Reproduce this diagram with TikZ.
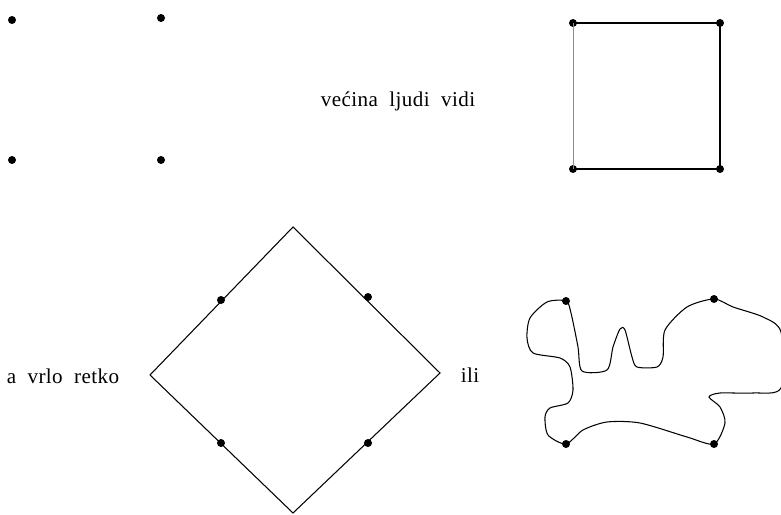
\documentclass[tikz,border=0pt]{standalone}
\usepackage{fontspec}
\setmainfont[WordSpace=2.0,LetterSpace=2]{Liberation Serif}
\begin{document}
\begin{tikzpicture}[x=0.03cm,y=-0.03cm,
  pt/.style={circle,fill=black,inner sep=0pt,minimum size=8*0.03cm},
  edge/.style={line width=0.9pt},
  bold/.style={line width=1.5pt},
  lbl/.style={font=\fontsize{18}{18}\selectfont,inner sep=0pt}]
\useasboundingbox (0,0) rectangle (781,515);

% four loose points
\node[pt] (p1) at (12,20) {};
\node[pt] (p2) at (161,18) {};
\node[pt] (p3) at (12,160) {};
\node[pt] (p4) at (161,160) {};

\node[lbl] (t1) at (398,101) {većina ljudi vidi};

% the square
\node[pt] (s1) at (573,23) {};
\node[pt] (s2) at (720,23) {};
\node[pt] (s3) at (720,169) {};
\node[pt] (s4) at (573,169) {};
\draw[bold] (s4.center) -- (s3.center) -- (s2.center) -- (s1.center);
\draw[line width=0.6pt,black!45] (s1.center) -- (s4.center);

% the diamond
\coordinate (dt) at (293,227);
\coordinate (dr) at (440,373);
\coordinate (db) at (293,513);
\coordinate (dl) at (150,375);
\draw[edge] (dt) -- (dr) -- (db) -- (dl) -- cycle;
\node[pt] (d1) at (221,300) {};
\node[pt] (d2) at (368,297) {};
\node[pt] (d3) at (368,443) {};
\node[pt] (d4) at (221,443) {};

\node[lbl] (t2) at (63,376) {a vrlo retko};
\node[lbl] (t3) at (470,375) {ili};

% the irregular loop
\node[pt] (w1) at (566,301) {};
\node[pt] (w2) at (714,299) {};
\node[pt] (w3) at (714,444) {};
\node[pt] (w4) at (566,444) {};
\draw[edge] plot[smooth cycle,tension=0.45] coordinates {
  (566,301) (571,313) (578,347) (582,371) (607,370) (613,347) (620,329)
  (625,330) (632,357) (637,367) (657,367) (663,357) (665,330) (687,307)
  (714,299) (733,307) (763,317) (781,332) (781,388) (753,393) (720,393)
  (709,397) (720,407) (725,423) (714,444) (687,437) (640,423) (607,422)
  (583,430) (566,444) (548,435) (545,417) (550,408) (568,403) (573,390)
  (570,367) (560,358) (533,353) (527,338) (530,318) (547,302)};
\end{tikzpicture}
\end{document}
